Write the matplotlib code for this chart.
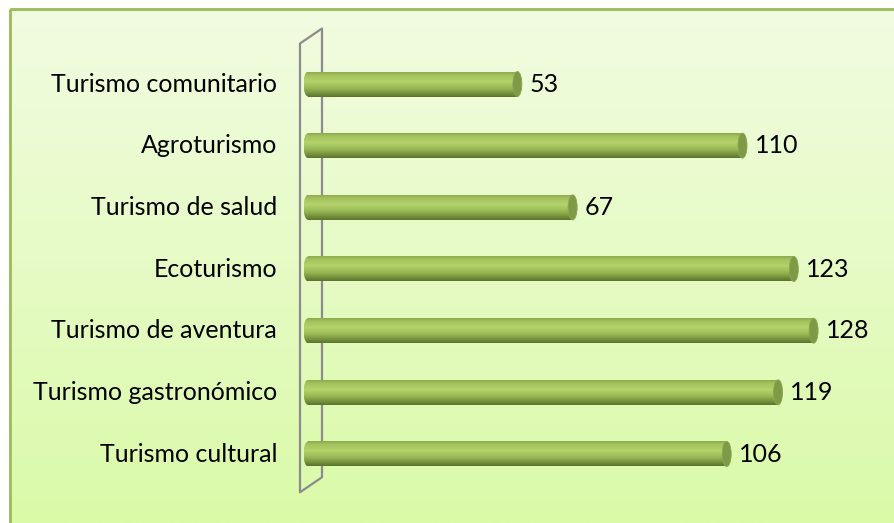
import numpy as np
import matplotlib.pyplot as plt
from matplotlib.patches import Ellipse, Rectangle
from matplotlib.colors import LinearSegmentedColormap

# data (bottom to top)
categories = [
    "Turismo cultural",
    "Turismo gastronómico",
    "Turismo de aventura",
    "Ecoturismo",
    "Turismo de salud",
    "Agroturismo",
    "Turismo comunitario",
]
values = [106, 119, 128, 123, 67, 110, 53]

W, H = 895, 523
fig = plt.figure(figsize=(W / 100, H / 100), dpi=100)

# background gradient + border
bg = fig.add_axes([0, 0, 1, 1])
bg_cmap = LinearSegmentedColormap.from_list("bg", ["#f2fce2", "#dafaa8"])
bg.imshow(np.linspace(0, 1, 256).reshape(-1, 1), cmap=bg_cmap, aspect="auto",
          extent=[0, W, H, 0])
bg.set_xlim(0, W)
bg.set_ylim(H, 0)
bg.add_patch(Rectangle((0, 0), 10, H, color="white", zorder=2))
bg.add_patch(Rectangle((0, 0), W, 8, color="white", zorder=2))
bg.add_patch(Rectangle((10, 9), W, H, fill=False, edgecolor="#9bbb59", lw=2, zorder=3))
bg.axis("off")

# main axes: x=0 at 308px, 3.95 px per unit; bar centers 454 -> 84 px
px_per_unit = 3.95
x0_px = 308
xmin = -70
xmax = (W - x0_px) / px_per_unit
left_px = x0_px + xmin * px_per_unit
step = (454 - 84) / (len(categories) - 1)
y_bot_px = 454 + step / 2
y_top_px = 84 - step / 2
ax = fig.add_axes([left_px / W, (H - y_bot_px) / H, 1 - left_px / W,
                   (y_bot_px - y_top_px) / H])
ax.set_xlim(xmin, xmax)
ax.set_ylim(-0.5, len(categories) - 0.5)
ax.axis("off")

# 3d wall
wall_front = -8 / px_per_unit
wall_back = 14 / px_per_unit
dy = 15 / step
wall_top = len(categories) - 0.5 + 0.4
wall_bottom = -0.5 - 0.12
wall = dict(color="#8c8c8c", lw=1.6, clip_on=False, zorder=1, solid_capstyle="round")
ax.plot([wall_front, wall_front], [wall_bottom, wall_top - dy], **wall)
ax.plot([wall_back, wall_back], [wall_bottom + dy, wall_top], **wall)
ax.plot([wall_front, wall_back], [wall_top - dy, wall_top], **wall)
ax.plot([wall_front, wall_back], [wall_bottom, wall_bottom + dy], **wall)

# cylinder bars
bar_h = 25 / step
cap_w = 9 / px_per_unit
cyl = LinearSegmentedColormap.from_list(
    "cyl", [(0, "#8da94c"), (0.12, "#a3c25c"), (0.38, "#b4d36b"),
            (0.65, "#9ab755"), (0.88, "#718c3a"), (1, "#5a722c")])
grad = np.linspace(0, 1, 128).reshape(-1, 1)
for i, (cat, v) in enumerate(zip(categories, values)):
    y0, y1 = i - bar_h / 2, i + bar_h / 2
    ax.imshow(grad, cmap=cyl, aspect="auto", extent=[0, v, y0, y1],
              zorder=3, clip_on=False)
    im_l = ax.imshow(grad, cmap=cyl, aspect="auto",
                     extent=[-cap_w / 2, cap_w / 2, y0, y1], zorder=3)
    left = Ellipse((0, i), cap_w, bar_h, transform=ax.transData)
    im_l.set_clip_path(left)
    ax.add_patch(Ellipse((v, i), cap_w, bar_h, facecolor="#7f9a46",
                         edgecolor="#8ca652", lw=0.6, zorder=4, clip_on=False))
    ax.text(v + 12 / px_per_unit, i, str(v), ha="left", va="center",
            fontsize=18, family="Lato", color="black")
    ax.text(-31 / px_per_unit, i, cat, ha="right", va="center",
            fontsize=18, family="Lato", color="black", clip_on=False)

ax.set_xlim(xmin, xmax)
ax.set_ylim(-0.5, len(categories) - 0.5)

fig.savefig("out.png", dpi=100)
